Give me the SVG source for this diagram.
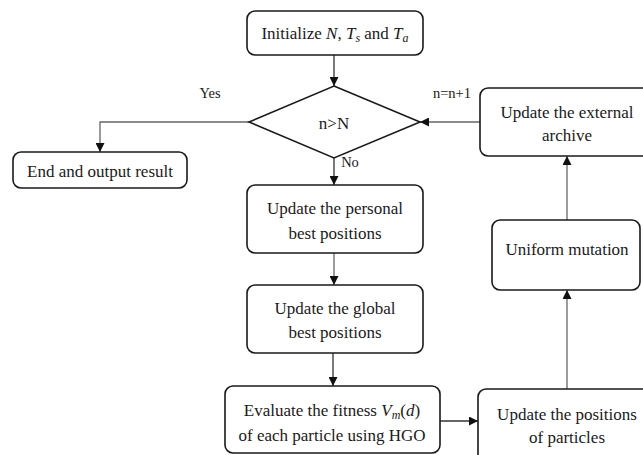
<svg xmlns="http://www.w3.org/2000/svg" width="643" height="455" viewBox="0 0 643 455">
<style>
.box{fill:#fff;stroke:#1a1a1a;stroke-width:1.6}
.t{font-family:'Liberation Serif','DejaVu Serif','Times New Roman',Times,serif;font-size:17px;fill:#1a1a1a;text-anchor:middle}
.l{font-family:'Liberation Serif','DejaVu Serif','Times New Roman',Times,serif;font-size:14.5px;fill:#1a1a1a;text-anchor:middle}
.c{fill:none;stroke:#666;stroke-width:1.3}
.k{fill:none;stroke:#333;stroke-width:1.3}
</style>
<defs>
<marker id="ah" viewBox="0 0 10 10" refX="10" refY="5" markerWidth="9" markerHeight="9" markerUnits="userSpaceOnUse" orient="auto">
<path d="M0,0 L10,5 L0,10 z" fill="#111"/>
</marker>
</defs>
<rect width="643" height="455" fill="#fff"/>
<g id="connectors">
<path class="k" d="M334,55 V86" marker-end="url(#ah)"/>
<path class="c" d="M249,122 H100 V152" marker-end="url(#ah)"/>
<path class="k" d="M334,158 V185" marker-end="url(#ah)"/>
<path class="c" d="M334,253 V285" marker-end="url(#ah)"/>
<path class="k" d="M333,353 V386" marker-end="url(#ah)"/>
<path class="k" d="M440,421 H478" marker-end="url(#ah)"/>
<path class="c" d="M567,389 V290" marker-end="url(#ah)"/>
<path class="c" d="M567,220 V156" marker-end="url(#ah)"/>
<path class="c" d="M480,122 H420" marker-end="url(#ah)"/>
<text class="l" x="210" y="98">Yes</text>
<text class="l" x="452" y="98">n=n+1</text>
<text class="l" x="350" y="167">No</text>
</g>
<g id="init">
<rect class="box" x="247" y="11" width="176" height="44" rx="8"/>
<text class="t" x="335" y="39">Initialize <tspan font-style="italic">N</tspan>, <tspan font-style="italic">T</tspan><tspan font-style="italic" font-size="12" dy="3">s</tspan><tspan dy="-3"> and </tspan><tspan font-style="italic">T</tspan><tspan font-style="italic" font-size="12" dy="3">a</tspan></text>
</g>
<g id="decision">
<polygon class="box" points="334,86 420,122 334,158 249,122"/>
<text class="t" x="334" y="129">n&gt;N</text>
</g>
<g id="end">
<rect class="box" x="13" y="152" width="174" height="36" rx="8"/>
<text class="t" x="100" y="177">End and output result</text>
</g>
<g id="personal">
<rect class="box" x="247" y="185" width="176" height="68" rx="8"/>
<text class="t" x="335" y="214">Update the personal</text>
<text class="t" x="335" y="239">best positions</text>
</g>
<g id="global">
<rect class="box" x="247" y="285" width="176" height="68" rx="8"/>
<text class="t" x="335" y="314">Update the global</text>
<text class="t" x="335" y="338">best positions</text>
</g>
<g id="evaluate">
<rect class="box" x="225" y="386" width="215" height="67" rx="8"/>
<text class="t" x="332" y="416">Evaluate the fitness <tspan font-style="italic">V</tspan><tspan font-style="italic" font-size="12" dy="3">m</tspan><tspan dy="-3">(</tspan><tspan font-style="italic">d</tspan>)</text>
<text class="t" x="332" y="441">of each particle using HGO</text>
</g>
<g id="positions">
<rect class="box" x="478" y="389" width="178" height="80" rx="8"/>
<text class="t" x="567" y="420">Update the positions</text>
<text class="t" x="567" y="443">of particles</text>
</g>
<g id="mutation">
<rect class="box" x="492" y="220" width="148" height="70" rx="8"/>
<text class="t" x="567" y="255">Uniform mutation</text>
</g>
<g id="archive">
<rect class="box" x="480" y="88" width="176" height="68" rx="8"/>
<text class="t" x="567" y="118">Update the external</text>
<text class="t" x="567" y="141">archive</text>
</g>
</svg>
